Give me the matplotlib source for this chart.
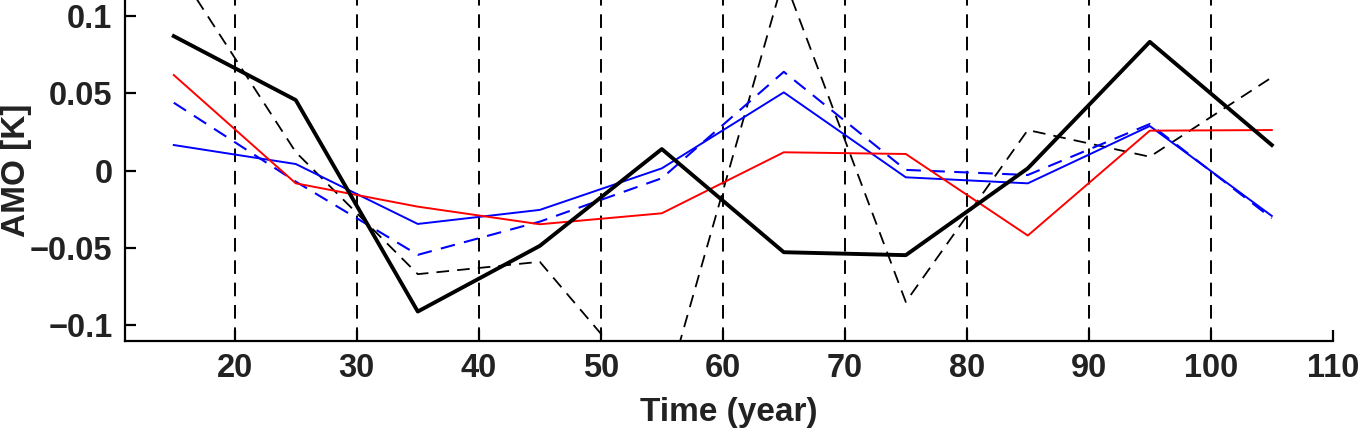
import matplotlib
matplotlib.use("Agg")
import matplotlib.pyplot as plt

plt.rcParams['font.family'] = ['Liberation Sans', 'DejaVu Sans']
plt.rcParams['font.weight'] = 'bold'

years = [15, 25, 35, 45, 55, 65, 75, 85, 95, 105]
black_thick = [0.0871, 0.0457, -0.0912, -0.0487, 0.0140, -0.0528, -0.0547, 0.0015, 0.0834, 0.0166]
black_dashed = [0.134, 0.012, -0.067, -0.059, -0.152, 0.125, -0.085, 0.0263, 0.009, 0.0604]
red_line = [0.0619, -0.0082, -0.0233, -0.0347, -0.0276, 0.0119, 0.0108, -0.0420, 0.0259, 0.0263]
blue_solid = [0.0166, 0.0043, -0.0345, -0.0254, 0.0015, 0.0507, -0.0043, -0.0082, 0.0289, -0.0293]
blue_dashed = [0.0440, -0.0071, -0.0545, -0.0330, -0.0049, 0.0640, 0.0005, -0.0028, 0.0302, -0.0308]
vlines_x = [20, 30, 40, 50, 60, 70, 80, 90, 100]
xticks = [20, 30, 40, 50, 60, 70, 80, 90, 100, 110]
yticks = [-0.1, -0.05, 0, 0.05, 0.1]
ytick_labels = ['\u22120.1', '\u22120.05', '0', '0.05', '0.1']

fig = plt.figure(figsize=(13.6, 4.32), dpi=100)
ax = fig.add_axes([0.0919, 0.2113, 0.98 - 0.0919, 1.0 - 0.2113])

for xv in vlines_x:
    ax.axvline(xv, color='black', lw=1.4, dashes=(7, 4.5), zorder=1)

ax.plot(years, black_dashed, color='black', lw=1.3, dashes=(7, 4.5), zorder=2)
ax.plot(years, blue_dashed, color='#0000ff', lw=1.5, dashes=(7, 4.5), zorder=3)
ax.plot(years, blue_solid, color='#0000ff', lw=1.4, zorder=3)
ax.plot(years, red_line, color='#ff0000', lw=1.4, zorder=4)
ax.plot(years, black_thick, color='black', lw=2.8, zorder=5)

ax.set_xlim(11, 110)
ax.set_ylim(-0.1101, 0.1105)
ax.set_xticks(xticks)
ax.set_xticklabels([str(t) for t in xticks])
ax.set_yticks(yticks)
ax.set_yticklabels(ytick_labels)

for s in ['top', 'right']:
    ax.spines[s].set_visible(False)
for s in ['left', 'bottom']:
    ax.spines[s].set_linewidth(1.6)
    ax.spines[s].set_color('black')

ax.tick_params(direction='in', length=8, width=1.6, colors='black',
               labelsize=23.5, labelcolor='#222222')
ax.tick_params(axis='x', pad=9)
ax.tick_params(axis='y', pad=9)
for lab in ax.get_xticklabels() + ax.get_yticklabels():
    lab.set_fontweight('bold')

ax.set_xlabel('Time (year)', fontsize=24, fontweight='bold', color='#222222', labelpad=9)
ax.set_ylabel('AMO [K]', fontsize=24, fontweight='bold', color='#222222')
ax.yaxis.set_label_coords(-0.0768, 0.5)

fig.savefig('out.png', dpi=100)
